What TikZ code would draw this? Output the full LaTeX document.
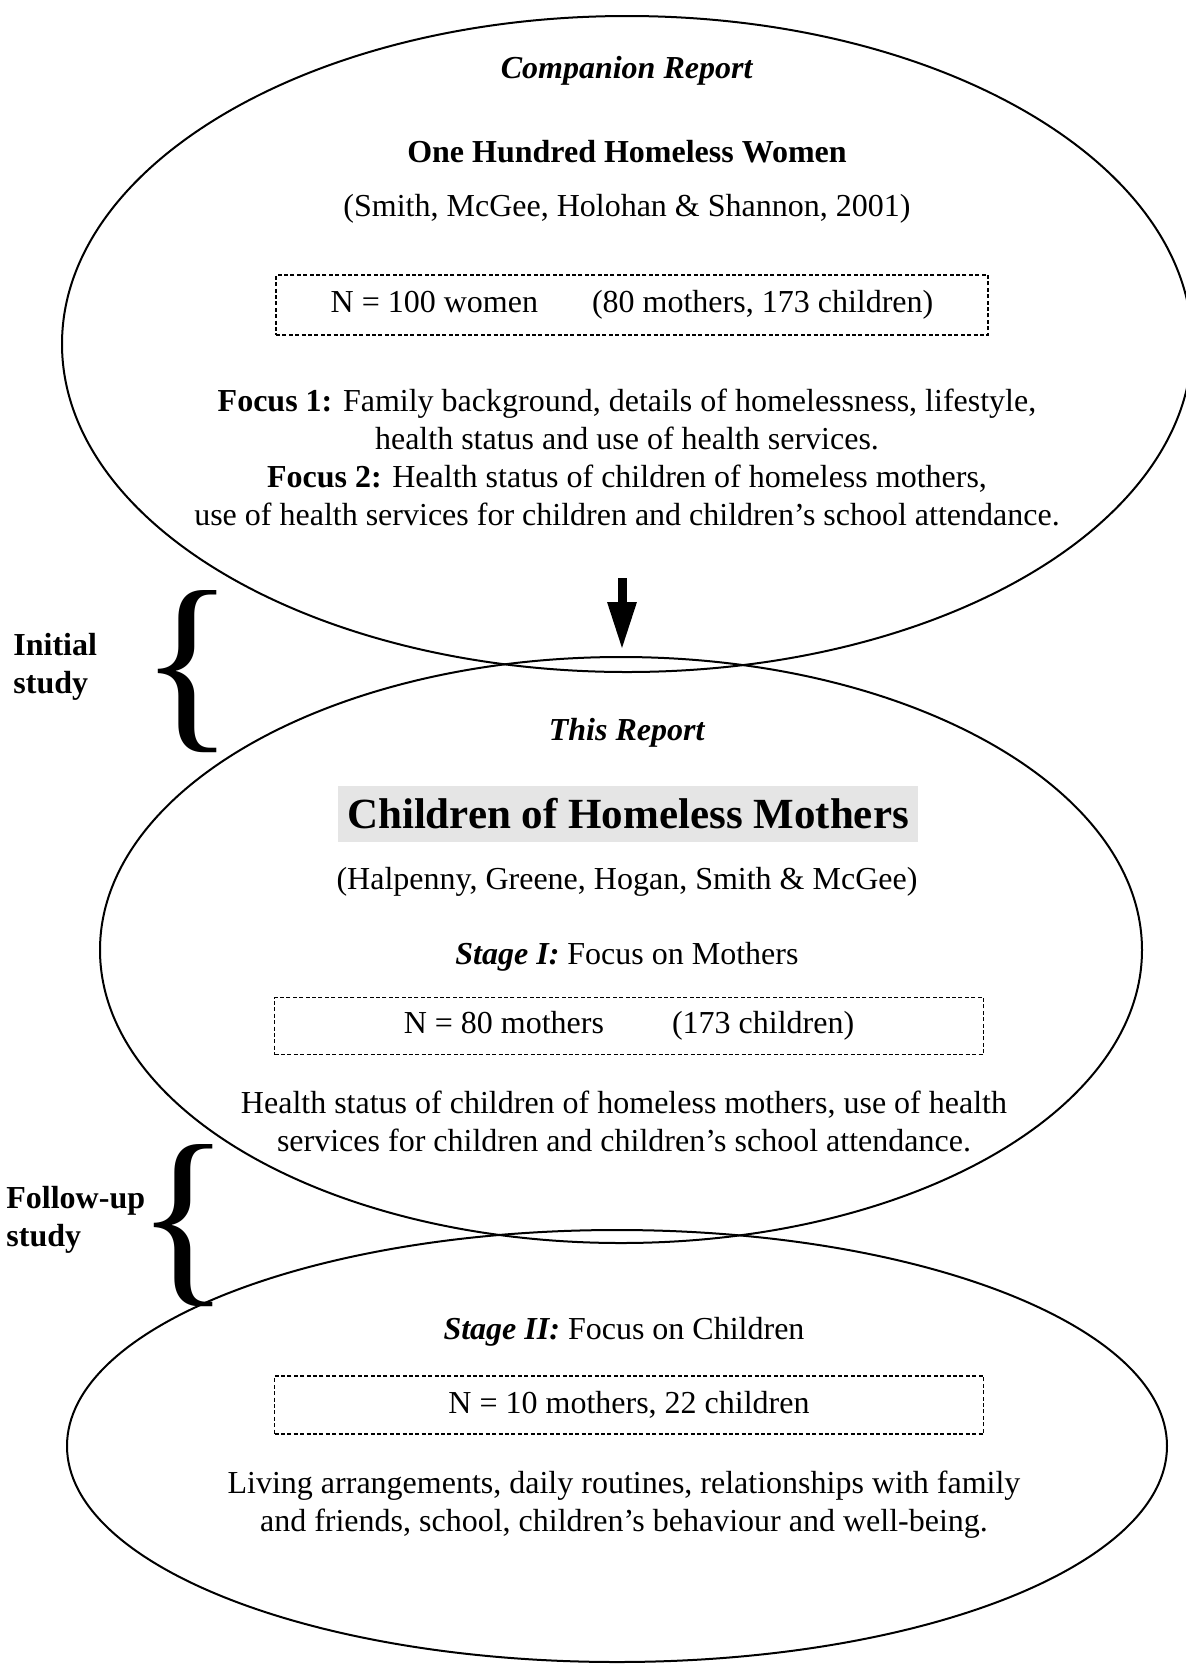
\documentclass[tikz,border=0pt]{standalone}
\usepackage{fontspec}
\setmainfont{Liberation Serif}
\usetikzlibrary{arrows.meta,shapes.geometric,positioning}

\tikzset{
  oval/.style={draw, ellipse, line width=1pt, inner sep=0pt},
  nbox/.style={draw, dash pattern=on 2pt off 1.2pt, line width=0.6pt, inner sep=0pt,
               font=\fontsize{16}{19}\selectfont},
  txt/.style={font=\fontsize{16}{19}\selectfont, align=center, inner sep=0pt},
  sidelabel/.style={font=\fontsize{16}{19}\selectfont\bfseries, align=left, inner sep=0pt, anchor=west},
  bigbrace/.style={font=\fontsize{98}{98}\selectfont, inner sep=0pt},
  downarrow/.style={line width=4.5pt, -{Triangle[width=13.5pt,length=24pt]}},
}

\begin{document}
\begin{tikzpicture}[x=0.5pt,y=-0.5pt]
    \useasboundingbox (0,0) rectangle (1186,1667);

    % the three ovals
    \node[oval, minimum width=565pt, minimum height=328pt] (companion) at (627,344) {};
    \node[oval, minimum width=521pt, minimum height=293pt] (thisreport) at (621,950) {};
    \node[oval, minimum width=550pt, minimum height=216pt] (followup) at (617,1446) {};

    % companion report
    \node[txt] (complabel) at (627,71) {\textbf{\textit{Companion Report}}};
    \node[txt] (comptitle) at (627,152) {\textbf{One Hundred Homeless Women}};
    \node[txt] (compauth) at (627,209) {(Smith, McGee, Holohan \& Shannon, 2001)};
    \node[nbox, minimum width=356pt, minimum height=30pt] (compbox) at (632,305)
        {N = 100 women\hspace{27pt}(80 mothers, 173 children)};
    \node[txt] (compfocus) at (627,457) {\textbf{Focus 1:} Family background, details of homelessness, lifestyle,\\
        health status and use of health services.\\
        \textbf{Focus 2:} Health status of children of homeless mothers,\\
        use of health services for children and children's school attendance.};

    \coordinate (arrowtop) at (622,578);
    \coordinate (arrowtip) at (622,650);
    \draw[downarrow] (arrowtop) -- (arrowtip);

    % this report
    \node[txt] (replabel) at (627,733) {\textbf{\textit{This Report}}};
    \node[txt, fill=gray!20, minimum width=290pt, minimum height=28pt,
          font=\fontsize{21.5}{24}\selectfont\bfseries] (reptitle) at (628,814) {Children of Homeless Mothers};
    \node[txt] (repauth) at (627,882) {(Halpenny, Greene, Hogan, Smith \& McGee)};
    \node[txt] (stageone) at (627,957) {\textbf{\textit{Stage I:}} Focus on Mothers};
    \node[nbox, minimum width=354.5pt, minimum height=28.5pt] (repbox) at (629,1026)
        {N = 80 mothers\hspace{34pt}(173 children)};
    \node[txt] (repfocus) at (624,1121) {Health status of children of homeless mothers, use of health\\
        services for children and children's school attendance.};

    % follow-up
    \node[txt] (stagetwo) at (624,1332) {\textbf{\textit{Stage II:}} Focus on Children};
    \node[nbox, minimum width=354.5pt, minimum height=29pt] (fupbox) at (629,1405)
        {N = 10 mothers, 22 children};
    \node[txt] (fupfocus) at (624,1505) {Living arrangements, daily routines, relationships with family\\
        and friends, school, children's behaviour and well-being.};

    % side labels
    \node[bigbrace] (initbrace) at (188,672) {\makebox[0pt]{\{}};
    \node[sidelabel] (initlabel) at (13,667) {Initial\\study};
    \node[bigbrace] (fupbrace) at (184,1226) {\makebox[0pt]{\{}};
    \node[sidelabel] (fuplabel) at (6,1220) {Follow-up\\study};
\end{tikzpicture}
\end{document}
